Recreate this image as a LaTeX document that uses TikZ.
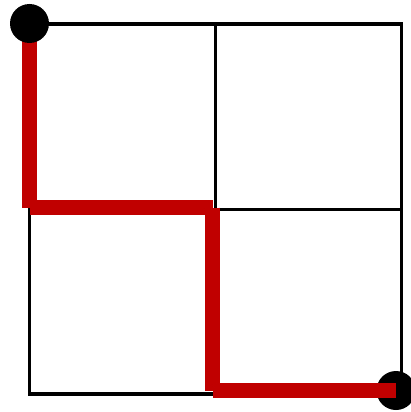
\documentclass[tikz,border=0pt]{standalone}
\definecolor{pathred}{HTML}{C00000}
\begin{document}
\begin{tikzpicture}[x=1pt,y=-1pt,
  gridline/.style={draw=black,line width=3.5pt,line cap=rect},
  redseg/.style={draw=pathred,line width=14.5pt,line cap=butt},
  dot/.style={circle,fill=black,minimum size=39pt,inner sep=0pt}]
\useasboundingbox (0,0) rectangle (410,412);
% grid corner coordinates
\coordinate (g00) at (29.7,24);
\coordinate (g10) at (215.3,24);
\coordinate (g20) at (401.7,24);
\coordinate (g01) at (29.7,209.3);
\coordinate (g11) at (215.3,209.3);
\coordinate (g21) at (401.7,209.3);
\coordinate (g02) at (29.7,394);
\coordinate (g12) at (215.3,394);
\coordinate (g22) at (401.7,394);
% grid
\draw[gridline] (g00) -- (g20);
\draw[gridline] (g01) -- (g21);
\draw[gridline] (g02) -- (g22);
\draw[gridline] (g00) -- (g02);
\draw[gridline] (g10) -- (g12);
\draw[gridline] (g20) -- (g22);
% path points
\coordinate (p0) at (29.5,23.5);
\coordinate (p1) at (29.5,207.5);
\coordinate (p2) at (212.5,207.5);
\coordinate (p3) at (212.5,390.5);
\coordinate (p4) at (396,390.5);
% end dot
\node[dot] (goal) at (p4) {};
% red path
\draw[redseg] (p0) -- (p1);
\draw[redseg] (p1) -- (p2);
\draw[redseg] (p2) -- (p3);
\draw[redseg] (p3) -- (goal.center);
% start dot
\node[dot] (start) at (p0) {};
\end{tikzpicture}
\end{document}
